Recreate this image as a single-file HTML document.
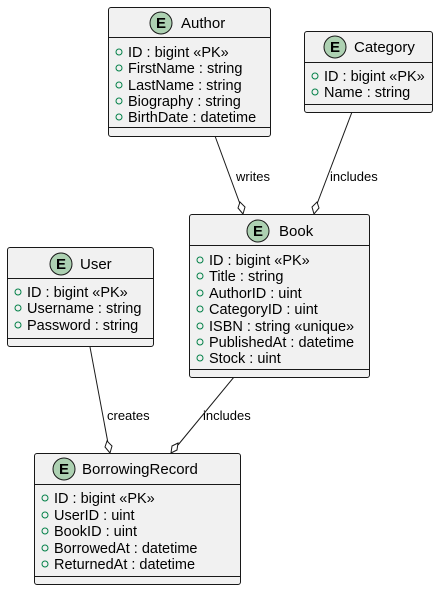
<!DOCTYPE html>
<html><head><meta charset="utf-8"><style>
html,body{margin:0;padding:0;background:#fff;}
svg text{font-family:"Liberation Sans","DejaVu Sans",sans-serif;font-size:14.5px;fill:#000;}
.t{font-size:15px;}
</style></head><body>
<svg width="438" height="591" viewBox="0 0 438 591" xmlns="http://www.w3.org/2000/svg">
<defs>
<g id="E"><circle r="11" fill="#ADD1B2" stroke="#181818" stroke-width="1"/><text x="-5" y="5" style="font-size:15px;font-weight:bold">E</text></g>
<g id="o"><circle r="3" fill="none" stroke="#038048" stroke-width="1"/></g>
</defs>
<g stroke="#181818" stroke-width="1" fill="none">
<line x1="215" y1="136" x2="240" y2="204"/>
<line x1="352" y1="112" x2="317" y2="204"/>
<line x1="90" y1="347" x2="108" y2="443"/>
<line x1="234" y1="377" x2="178" y2="445"/>
</g>
<g fill="#fff" stroke="#181818">
<polygon points="243,214 238,208 240,202 245,207"/>
<polygon points="314,214 312,207 317,202 319,208"/>
<polygon points="110,453 105,447 107,441 112,446"/>
<polygon points="171,453 172,446 178,443 177,450"/>
</g>
<text x="236" y="181" style="font-size:13px">writes</text>
<text x="330" y="181" style="font-size:13px">includes</text>
<text x="107" y="420" style="font-size:13px">creates</text>
<text x="203" y="420" style="font-size:13px">includes</text>

<!-- Author -->
<rect x="108.5" y="7.5" width="162" height="129" rx="2.5" fill="#F1F1F1" stroke="#181818"/>
<line x1="108.5" y1="37.5" x2="270.5" y2="37.5" stroke="#181818"/>
<line x1="108.5" y1="127.5" x2="270.5" y2="127.5" stroke="#181818"/>
<use href="#E" x="161" y="23"/><text class="t" x="181" y="28">Author</text>
<use href="#o" x="119" y="52"/><text x="128" y="57">ID : bigint «PK»</text>
<use href="#o" x="119" y="68"/><text x="128" y="73">FirstName : string</text>
<use href="#o" x="119" y="85"/><text x="128" y="90">LastName : string</text>
<use href="#o" x="119" y="101"/><text x="128" y="106">Biography : string</text>
<use href="#o" x="119" y="117"/><text x="128" y="122">BirthDate : datetime</text>

<!-- Category -->
<rect x="304.5" y="31.5" width="128" height="81" rx="2.5" fill="#F1F1F1" stroke="#181818"/>
<line x1="304.5" y1="62.5" x2="432.5" y2="62.5" stroke="#181818"/>
<line x1="304.5" y1="104.5" x2="432.5" y2="104.5" stroke="#181818"/>
<use href="#E" x="335" y="47"/><text class="t" x="354" y="52">Category</text>
<use href="#o" x="315" y="76"/><text x="324" y="81">ID : bigint «PK»</text>
<use href="#o" x="315" y="92"/><text x="324" y="97">Name : string</text>

<!-- Book -->
<rect x="189.5" y="214.5" width="180" height="163" rx="2.5" fill="#F1F1F1" stroke="#181818"/>
<line x1="189.5" y1="245.5" x2="369.5" y2="245.5" stroke="#181818"/>
<line x1="189.5" y1="369.5" x2="369.5" y2="369.5" stroke="#181818"/>
<use href="#E" x="258" y="231"/><text class="t" x="279" y="236">Book</text>
<use href="#o" x="200" y="260"/><text x="209" y="265">ID : bigint «PK»</text>
<use href="#o" x="200" y="276"/><text x="209" y="281">Title : string</text>
<use href="#o" x="200" y="293"/><text x="209" y="298">AuthorID : uint</text>
<use href="#o" x="200" y="309"/><text x="209" y="314">CategoryID : uint</text>
<use href="#o" x="200" y="326"/><text x="209" y="331">ISBN : string «unique»</text>
<use href="#o" x="200" y="342"/><text x="209" y="347">PublishedAt : datetime</text>
<use href="#o" x="200" y="358"/><text x="209" y="363">Stock : uint</text>

<!-- User -->
<rect x="7.5" y="247.5" width="146" height="99" rx="2.5" fill="#F1F1F1" stroke="#181818"/>
<line x1="7.5" y1="278.5" x2="153.5" y2="278.5" stroke="#181818"/>
<line x1="7.5" y1="338.5" x2="153.5" y2="338.5" stroke="#181818"/>
<use href="#E" x="61" y="264"/><text class="t" x="80" y="269">User</text>
<use href="#o" x="18" y="292"/><text x="27" y="297">ID : bigint «PK»</text>
<use href="#o" x="18" y="308"/><text x="27" y="313">Username : string</text>
<use href="#o" x="18" y="325"/><text x="27" y="330">Password : string</text>

<!-- BorrowingRecord -->
<rect x="34.5" y="453.5" width="206" height="131" rx="2.5" fill="#F1F1F1" stroke="#181818"/>
<line x1="34.5" y1="484.5" x2="240.5" y2="484.5" stroke="#181818"/>
<line x1="34.5" y1="576.5" x2="240.5" y2="576.5" stroke="#181818"/>
<use href="#E" x="64" y="469"/><text class="t" x="82" y="474">BorrowingRecord</text>
<use href="#o" x="45" y="498"/><text x="54" y="503">ID : bigint «PK»</text>
<use href="#o" x="45" y="515"/><text x="54" y="520">UserID : uint</text>
<use href="#o" x="45" y="531"/><text x="54" y="536">BookID : uint</text>
<use href="#o" x="45" y="548"/><text x="54" y="553">BorrowedAt : datetime</text>
<use href="#o" x="45" y="564"/><text x="54" y="569">ReturnedAt : datetime</text>
</svg>
</body></html>
